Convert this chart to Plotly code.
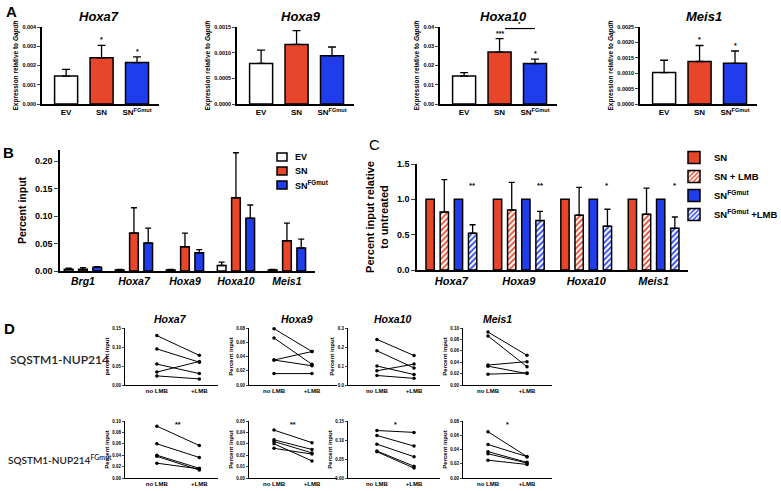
import plotly.graph_objects as go

W, H = 781, 491
RED = "#E8462A"
BLUE = "#1F3DEB"
FONT = "Liberation Sans"

# ---------------- data ----------------
A_genes = ["Hoxa7", "Hoxa9", "Hoxa10", "Meis1"]
A_groups = ["EV", "SN", "SN<sup>FGmut</sup>"]
A_hoxa7 = [0.00145, 0.00240, 0.00215]
A_hoxa7_err = [0.00035, 0.00065, 0.00030]
A_hoxa9 = [0.00079, 0.00116, 0.00094]
A_hoxa9_err = [0.00026, 0.00027, 0.00017]
A_hoxa10 = [0.0145, 0.0270, 0.0210]
A_hoxa10_err = [0.0018, 0.0070, 0.0023]
A_meis1 = [0.00102, 0.00138, 0.00132]
A_meis1_err = [0.00040, 0.00052, 0.00040]
A_stars = [["", "*", "*"], ["", "", ""], ["", "***", "*"], ["", "*", "*"]]
A_ymax = [0.004, 0.0015, 0.04, 0.0025]
A_dtick = [0.001, 0.0005, 0.01, 0.0005]
A_fmt = [".3f", ".4f", ".2f", ".4f"]

B_genes = ["Brg1", "Hoxa7", "Hoxa9", "Hoxa10", "Meis1"]
B_series = ["EV", "SN", "SN<sup>FGmut</sup>"]
B_ev = [0.003, 0.002, 0.002, 0.010, 0.002]
B_ev_err = [0.002, 0.001, 0.001, 0.006, 0.001]
B_sn = [0.003, 0.069, 0.044, 0.133, 0.055]
B_sn_err = [0.003, 0.046, 0.025, 0.082, 0.032]
B_fg = [0.007, 0.051, 0.033, 0.096, 0.042]
B_fg_err = [0.001, 0.027, 0.006, 0.024, 0.016]

C_genes = ["Hoxa7", "Hoxa9", "Hoxa10", "Meis1"]
C_series = ["SN", "SN + LMB", "SN<sup>FGmut</sup>", "SN<sup>FGmut</sup> +LMB"]
C_sn = [1.0, 1.0, 1.0, 1.0]
C_sn_lmb = [0.82, 0.85, 0.775, 0.79]
C_sn_lmb_err = [0.46, 0.39, 0.395, 0.37]
C_fg = [1.0, 1.0, 1.0, 1.0]
C_fg_lmb = [0.52, 0.70, 0.62, 0.59]
C_fg_lmb_err = [0.12, 0.13, 0.24, 0.16]
C_stars = ["**", "**", "*", "*"]

D_genes = ["Hoxa7", "Hoxa9", "Hoxa10", "Meis1"]
D_conds = ["no LMB", "+LMB"]
D_rows = ["SQSTM1-NUP214", "SQSTM1-NUP214<sup>FGmut</sup>"]
D1_no = [[0.130, 0.095, 0.055, 0.034, 0.024],
         [0.079, 0.066, 0.035, 0.035, 0.016],
         [0.24, 0.18, 0.10, 0.075, 0.05],
         [0.093, 0.086, 0.035, 0.033, 0.019]]
D1_lmb = [[0.078, 0.060, 0.030, 0.062, 0.016],
          [0.047, 0.029, 0.047, 0.027, 0.016],
          [0.155, 0.09, 0.055, 0.11, 0.035],
          [0.052, 0.032, 0.041, 0.020, 0.021]]
D2_no = [[0.091, 0.060, 0.040, 0.038, 0.026],
         [0.042, 0.0335, 0.032, 0.030, 0.026],
         [0.125, 0.112, 0.089, 0.071, 0.069],
         [0.065, 0.047, 0.037, 0.034, 0.025]]
D2_lmb = [[0.057, 0.036, 0.017, 0.014, 0.016],
          [0.031, 0.025, 0.022, 0.015, 0.021],
          [0.12, 0.084, 0.056, 0.031, 0.026],
          [0.030, 0.030, 0.022, 0.021, 0.019]]
D1_ymax = [0.15, 0.08, 0.3, 0.10]
D1_dtick = [0.05, 0.02, 0.1, 0.02]
D1_fmt = [".2f", ".2f", ".1f", ".2f"]
D2_ymax = [0.10, 0.05, 0.15, 0.08]
D2_dtick = [0.02, 0.01, 0.05, 0.02]
D2_fmt = [".2f", ".2f", ".2f", ".2f"]
D2_stars = ["**", "**", "*", "*"]

# ---------------- helpers ----------------
fig = go.Figure()
layout = dict(width=W, height=H, margin=dict(l=0, r=0, t=0, b=0, autoexpand=False),
              paper_bgcolor="white", plot_bgcolor="white", template="none",
              barmode="overlay", showlegend=True,
              font=dict(family=FONT, color="black"))
annotations = []
shapes = []


def dx(a, b):
    return [a / W, b / W]


def dy(top, bottom):
    return [1 - bottom / H, 1 - top / H]


def names(k):
    if k == 1:
        return "xaxis", "yaxis", "x", "y"
    return f"xaxis{k}", f"yaxis{k}", f"x{k}", f"y{k}"


def axes(k, xd, yd, xkw, ykw, lw=1.5):
    xn, yn, xr, yr = names(k)
    base = dict(showgrid=False, zeroline=False, showline=True, linecolor="black",
                linewidth=lw, fixedrange=True, automargin=False)
    layout[xn] = dict(domain=dx(*xd), anchor=yr, **base, **xkw)
    layout[yn] = dict(domain=dy(*yd), anchor=xr, **base, **ykw)
    return xr, yr


def text(x, y, s, size, xref="paper", yref="paper", xanchor="center", yanchor="middle",
         weight="bold", family=FONT, color="black"):
    if xref == "paper":
        x = x / W
    if yref == "paper":
        y = 1 - y / H
    annotations.append(dict(x=x, y=y, xref=xref, yref=yref, text=s, showarrow=False,
                            xanchor=xanchor, yanchor=yanchor,
                            font=dict(size=size, family=family, color=color, weight=weight)))


# ---------------- Panel A ----------------
A_vals = [A_hoxa7, A_hoxa9, A_hoxa10, A_meis1]
A_errs = [A_hoxa7_err, A_hoxa9_err, A_hoxa10_err, A_meis1_err]
A_xdom = [(42, 159), (237, 354), (440, 557), (640, 757)]
A_title_x = [99, 301, 503, 704]
for i, g in enumerate(A_genes):
    k = i + 1
    xr, yr = axes(k, A_xdom[i], (27, 104),
                  dict(type="category", categoryorder="array", categoryarray=A_groups,
                       range=[-0.68, 2.62], ticks="",
                       tickfont=dict(size=8, weight="bold")),
                  dict(range=[0, A_ymax[i]], dtick=A_dtick[i], tickformat=A_fmt[i],
                       ticks="outside", ticklen=3, tickwidth=1.2,
                       tickfont=dict(size=5.5, weight="bold"),
                       title=dict(text="Expression relative to <i>Gapdh</i>",
                                  font=dict(size=6.5, weight="bold"), standoff=3)))
    fig.add_trace(go.Bar(x=A_groups, y=A_vals[i], width=0.65, xaxis=xr, yaxis=yr,
                         marker=dict(color=["white", RED, BLUE], line=dict(color="black", width=1.5)),
                         error_y=dict(type="data", array=A_errs[i], arrayminus=[0, 0, 0],
                                      symmetric=False, color="black", thickness=1.3, width=4),
                         showlegend=False, hoverinfo="skip"))
    text(A_title_x[i], 17, f"<b><i>{g}</i></b>", 13)
    for j, s in enumerate(A_stars[i]):
        if s:
            text(j, A_vals[i][j] + A_errs[i][j], s, 7, xref=xr, yref=yr, yanchor="bottom")
# Hoxa10 bracket SN vs SN-FGmut
shapes.append(dict(type="line", xref="x3", yref="y3", x0=1.15, x1=2.0,
                   y0=0.0392, y1=0.0392, line=dict(color="black", width=1.2)))
text(1.55, 0.0392, "*", 6, xref="x3", yref="y3", yanchor="bottom")

# ---------------- Panel B ----------------
k = 5
xr, yr = axes(k, (60, 315), (150, 271),
              dict(range=[-0.45, 4.55], tickvals=list(range(len(B_genes))),
                   ticktext=[f"<i>{g}</i>" for g in B_genes], ticks="",
                   tickfont=dict(size=10.5, weight="bold")),
              dict(range=[0, 0.22], tickvals=[0, 0.05, 0.10, 0.15, 0.20], tickformat=".2f",
                   ticks="outside", ticklen=4, tickwidth=1.3,
                   tickfont=dict(size=9, weight="bold"),
                   title=dict(text="Percent input", font=dict(size=10.5, weight="bold"), standoff=6)))
B_vals = [B_ev, B_sn, B_fg]
B_errs = [B_ev_err, B_sn_err, B_fg_err]
B_cols = ["white", RED, BLUE]
for s in range(3):
    fig.add_trace(go.Bar(x=[g + (s - 1) * 0.28 for g in range(len(B_genes))], y=B_vals[s],
                         width=0.17, xaxis=xr, yaxis=yr, name=B_series[s],
                         marker=dict(color=B_cols[s], line=dict(color="black", width=1.5)),
                         error_y=dict(type="data", array=B_errs[s], arrayminus=[0] * 5,
                                      symmetric=False, color="black", thickness=1.3, width=3),
                         showlegend=False, hoverinfo="skip"))
# B legend (custom swatches)
for s in range(3):
    yc = 157 + 14 * s
    shapes.append(dict(type="rect", xref="paper", yref="paper", x0=277 / W, x1=287 / W,
                       y0=1 - (yc + 4) / H, y1=1 - (yc - 4) / H,
                       fillcolor=B_cols[s], line=dict(color="black", width=1.5)))
    text(293, yc, B_series[s], 9, xanchor="left")

# ---------------- Panel C ----------------
k = 6
xr, yr = axes(k, (417, 688), (164, 270),
              dict(range=[-0.51, 3.51], tickvals=list(range(len(C_genes))),
                   ticktext=[f"<i>{g}</i>" for g in C_genes], ticks="",
                   tickfont=dict(size=11, weight="bold")),
              dict(range=[0, 1.5], tickvals=[0, 0.5, 1.0, 1.5], tickformat=".1f",
                   ticks="outside", ticklen=4, tickwidth=1.3,
                   tickfont=dict(size=9, weight="bold"),
                   title=dict(text="Percent input relative<br>to untreated",
                              font=dict(size=11, weight="bold"), standoff=6)))
C_vals = [C_sn, C_sn_lmb, C_fg, C_fg_lmb]
C_errs = [None, C_sn_lmb_err, None, C_fg_lmb_err]
C_cols = [RED, RED, BLUE, BLUE]
C_hatch = [False, True, False, True]
for s in range(4):
    if C_hatch[s]:
        mk = dict(color="white", line=dict(color="black", width=1.5),
                  pattern=dict(shape="/", fgcolor=C_cols[s], bgcolor="white",
                               size=4, solidity=0.45, fillmode="replace"))
    else:
        mk = dict(color=C_cols[s], line=dict(color="black", width=1.5))
    err = None
    if C_errs[s] is not None:
        err = dict(type="data", array=C_errs[s], arrayminus=[0] * 4, symmetric=False,
                   color="black", thickness=1.3, width=3)
    fig.add_trace(go.Bar(x=[g + (s - 1.5) * 0.21 for g in range(len(C_genes))], y=C_vals[s],
                         width=0.123, xaxis=xr, yaxis=yr, name=C_series[s], marker=mk,
                         error_y=err, legend="legend2", showlegend=True, hoverinfo="skip"))
for g, s in enumerate(C_stars):
    text(g + 1.5 * 0.21, 1.2, s, 8, xref=xr, yref=yr)
layout["legend2"] = dict(x=674 / W, y=1 - 143 / H, xanchor="left", yanchor="top",
                         font=dict(size=9.5, weight="bold", family=FONT),
                         bgcolor="rgba(0,0,0,0)", tracegroupgap=0)

# ---------------- Panel D ----------------
D_xdom = [(125, 218), (249, 337), (348, 440), (463, 552)]
D_xrange = [[-0.75, 1.44], [-0.66, 1.66], [-0.78, 1.70], [-0.64, 1.64]]
D_ydom = [(328, 385), (421, 478)]
D_title_x = [170, 297, 393, 497]
rows = [(D1_no, D1_lmb, D1_ymax, D1_dtick, D1_fmt, ["", "", "", ""]),
        (D2_no, D2_lmb, D2_ymax, D2_dtick, D2_fmt, D2_stars)]
k = 7
for r, (no, lmb, ymax, dt, fmt, stars) in enumerate(rows):
    for i, g in enumerate(D_genes):
        ytitle = "percent input" if (r == 0 and i == 0) else "Percent input"
        xr, yr = axes(k, D_xdom[i], D_ydom[r],
                      dict(type="category", categoryorder="array", categoryarray=D_conds,
                           range=D_xrange[i], ticks="",
                           tickfont=dict(size=6, weight="bold")),
                      dict(range=[0, ymax[i]], dtick=dt[i], tickformat=fmt[i],
                           ticks="outside", ticklen=2, tickwidth=1,
                           tickfont=dict(size=4.5, weight="bold"),
                           title=dict(text=ytitle, font=dict(size=6, weight="bold"), standoff=2)),
                      lw=1.2)
        for rep in range(len(no[i])):
            fig.add_trace(go.Scatter(x=D_conds, y=[no[i][rep], lmb[i][rep]], mode="lines+markers",
                                     xaxis=xr, yaxis=yr, line=dict(color="black", width=1),
                                     marker=dict(color="black", size=3.5),
                                     showlegend=False, hoverinfo="skip", cliponaxis=False))
        if stars[i]:
            text(0.5, ymax[i] * 0.94, stars[i], 7, xref=xr, yref=yr)
        if r == 0:
            text(D_title_x[i], 319, f"<b><i>{g}</i></b>", 10.5)
        k += 1
text(8, 359, D_rows[0], 12, xanchor="left", weight=600, family="Lato", color="#222")
text(6, 459, D_rows[1], 10, xanchor="left", weight=600, family="Lato", color="#222")

# panel letters
text(11, 11, "A", 15)
text(8, 152, "B", 15)
text(374, 144, "C", 15, weight="normal")
text(9, 328, "D", 15)

layout["annotations"] = annotations
layout["shapes"] = shapes
fig.update_layout(**layout)
fig.write_html("out.html", config={"displayModeBar": False},
               post_script="document.body.style.margin='0px';")
